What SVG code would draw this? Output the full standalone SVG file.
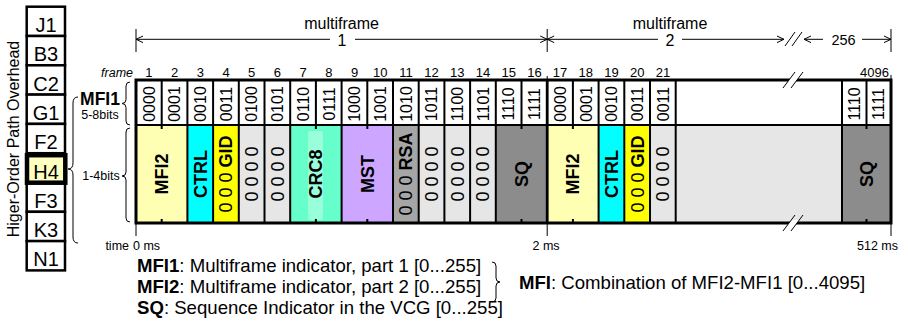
<svg xmlns="http://www.w3.org/2000/svg" width="908" height="328" viewBox="0 0 908 328">
  <style>
    text { font-family: "Liberation Sans", Arial, sans-serif; fill: #000; }
    .oh { fill: #fff; stroke: #000; stroke-width: 2.5; }
    .ohl { font-size: 20px; text-anchor: middle; }
    .bin { font-size: 16px; text-anchor: middle; }
    .fld { font-size: 18px; text-anchor: middle; }
    .b { font-weight: bold; }
    .num { font-size: 13px; text-anchor: middle; }
    .dim { font-size: 16px; text-anchor: middle; }
    .small { font-size: 12.5px; }
    .leg { font-size: 18.6px; }
    .sep { stroke: #000; stroke-width: 2; }
    .thin { stroke: #000; stroke-width: 1; fill: none; }
    .brace { stroke: #000; stroke-width: 1; fill: none; }
    .mfi2 { fill: #ffffb3; }
    .ctrl { fill: #00ffff; }
    .gid { fill: #ffff00; }
    .zero { fill: #e6e6e6; }
    .crc { fill: #66ffcc; }
    .mst { fill: #cca6ff; }
    .rsa { fill: #a6a6a6; }
    .sq { fill: #8c8c8c; }
  </style>

  <!-- Higher-order path overhead column -->
  <g id="overhead">
    <text transform="translate(19,139) rotate(-90)" style="font-size:16px;text-anchor:middle">Higer-Order Path Overhead</text>
    <g id="oh-j1"><rect class="oh" x="26.7" y="6.7" width="38.3" height="29.3"/><text class="ohl" x="46" y="32">J1</text></g>
    <g id="oh-b3"><rect class="oh" x="26.7" y="36" width="38.3" height="29.3"/><text class="ohl" x="46" y="61.3">B3</text></g>
    <g id="oh-c2"><rect class="oh" x="26.7" y="65.3" width="38.3" height="29.3"/><text class="ohl" x="46" y="90.6">C2</text></g>
    <g id="oh-g1"><rect class="oh" x="26.7" y="94.6" width="38.3" height="29.3"/><text class="ohl" x="46" y="119.9">G1</text></g>
    <g id="oh-f2"><rect class="oh" x="26.7" y="123.9" width="38.3" height="29.3"/><text class="ohl" x="46" y="149.2">F2</text></g>
    <g id="oh-f3"><rect class="oh" x="26.7" y="182.5" width="38.3" height="29.3"/><text class="ohl" x="46" y="207.8">F3</text></g>
    <g id="oh-k3"><rect class="oh" x="26.7" y="211.8" width="38.3" height="29.3"/><text class="ohl" x="46" y="237.1">K3</text></g>
    <g id="oh-n1"><rect class="oh" x="26.7" y="241.1" width="38.3" height="29.3"/><text class="ohl" x="46" y="266.4">N1</text></g>
    <g id="oh-h4"><rect x="27" y="155.2" width="38.3" height="27.5" fill="#ffffc0" stroke="#000" stroke-width="4.5"/><text class="ohl" x="46" y="178.5">H4</text></g>
  </g>

  <!-- side labels -->
  <g id="label-mfi1">
    <text x="100" y="105" style="font-size:17.5px;font-weight:bold;text-anchor:middle">MFI1</text>
    <text class="small" x="100" y="119" style="text-anchor:middle">5-8bits</text>
  </g>
  <g id="label-14bits">
    <text class="small" x="101" y="180" style="text-anchor:middle">1-4bits</text>
  </g>
  <text id="label-frame" x="133" y="76.5" style="font-size:12.5px;font-style:italic;text-anchor:end">frame</text>

  <!-- multiframe dimension labels -->
  <g id="mf-labels">
    <text class="dim" x="341.6" y="29">multiframe</text>
    <text class="dim" x="342" y="45.5">1</text>
    <text class="dim" x="670" y="29">multiframe</text>
    <text class="dim" x="670" y="45.5">2</text>
    <text class="dim" x="843.5" y="45" style="font-size:14.5px">256</text>
  </g>

  <!-- frame numbers -->
  <g id="frame-numbers">
    <text class="num" x="148.9" y="76.5">1</text>
    <text class="num" x="174.6" y="76.5">2</text>
    <text class="num" x="200.3" y="76.5">3</text>
    <text class="num" x="226" y="76.5">4</text>
    <text class="num" x="251.7" y="76.5">5</text>
    <text class="num" x="277.4" y="76.5">6</text>
    <text class="num" x="303.1" y="76.5">7</text>
    <text class="num" x="328.8" y="76.5">8</text>
    <text class="num" x="354.5" y="76.5">9</text>
    <text class="num" x="380.2" y="76.5">10</text>
    <text class="num" x="405.9" y="76.5">11</text>
    <text class="num" x="431.6" y="76.5">12</text>
    <text class="num" x="457.3" y="76.5">13</text>
    <text class="num" x="483" y="76.5">14</text>
    <text class="num" x="508.7" y="76.5">15</text>
    <text class="num" x="534.4" y="76.5">16</text>
    <text class="num" x="560.1" y="76.5">17</text>
    <text class="num" x="585.8" y="76.5">18</text>
    <text class="num" x="611.5" y="76.5">19</text>
    <text class="num" x="637.2" y="76.5">20</text>
    <text class="num" x="662.9" y="76.5">21</text>
    <text class="num" x="889" y="76.5" style="text-anchor:end">4096</text>
  </g>

  <!-- lower-row field fills (bits 1-4) -->
  <g id="fields">
    <rect class="mfi2" x="136" y="125" width="51.4" height="98"/>
    <rect class="ctrl" x="187.4" y="125" width="25.7" height="98"/>
    <rect class="gid" x="213.1" y="125" width="25.7" height="98"/>
    <rect class="zero" x="238.8" y="125" width="51.4" height="98"/>
    <rect class="crc" x="290.2" y="125" width="51.4" height="98"/>
    <rect x="308" y="131" width="15" height="89" rx="2" fill="#99ffdb"/>
    <rect class="mst" x="341.6" y="125" width="51.4" height="98"/>
    <rect class="rsa" x="393" y="125" width="25.7" height="98"/>
    <rect class="zero" x="418.7" y="125" width="77.1" height="98"/>
    <rect class="sq" x="495.8" y="125" width="51.4" height="98"/>
    <rect class="mfi2" x="547.2" y="125" width="51.4" height="98"/>
    <rect class="ctrl" x="598.6" y="125" width="25.7" height="98"/>
    <rect class="gid" x="624.3" y="125" width="25.7" height="98"/>
    <rect class="zero" x="650" y="125" width="192" height="98"/>
    <rect class="sq" x="842" y="125" width="49" height="98"/>
  </g>

  <!-- frame grid -->
  <g id="grid">
    <line class="sep" x1="136" y1="125" x2="891" y2="125"/>
    <!-- upper row separators -->
    <path class="sep" d="M161.7,80V125M187.4,80V125M213.1,80V125M238.8,80V125M264.5,80V125M290.2,80V125M315.9,80V125M341.6,80V125M367.3,80V125M393,80V125M418.7,80V125M444.4,80V125M470.1,80V125M495.8,80V125M521.5,80V125M572.9,80V125M598.6,80V125M624.3,80V125M650,80V125M675.7,80V125M842,80V125M866.5,80V125"/>
    <!-- lower row separators -->
    <path class="sep" d="M187.4,125V223M213.1,125V223M238.8,125V223M264.5,125V223M290.2,125V223M341.6,125V223M393,125V223M418.7,125V223M444.4,125V223M470.1,125V223M495.8,125V223M598.6,125V223M624.3,125V223M650,125V223M675.7,125V223M842,125V223"/>
    <line x1="547.2" y1="80" x2="547.2" y2="223" stroke="#000" stroke-width="2.8"/>
    <!-- ticks on merged fields -->
    <path class="sep" d="M161.7,125V129M161.7,219V223M315.9,125V129M315.9,219V223M367.3,125V129M367.3,219V223M521.5,125V129M521.5,219V223M572.9,125V129M572.9,219V223M866.5,125V129M866.5,219V223"/>
    <rect x="136" y="80" width="755" height="143" fill="none" stroke="#000" stroke-width="3"/>
  </g>

  <!-- upper-row MFI1 values (bits 5-8) -->
  <g id="mfi1-values">
    <text class="bin" transform="translate(154.6,104) rotate(-90)">0000</text>
    <text class="bin" transform="translate(180.3,104) rotate(-90)">0001</text>
    <text class="bin" transform="translate(206,104) rotate(-90)">0010</text>
    <text class="bin" transform="translate(231.7,104) rotate(-90)">0011</text>
    <text class="bin" transform="translate(257.4,104) rotate(-90)">0100</text>
    <text class="bin" transform="translate(283.1,104) rotate(-90)">0101</text>
    <text class="bin" transform="translate(308.8,104) rotate(-90)">0110</text>
    <text class="bin" transform="translate(334.5,104) rotate(-90)">0111</text>
    <text class="bin" transform="translate(360.2,104) rotate(-90)">1000</text>
    <text class="bin" transform="translate(385.9,104) rotate(-90)">1001</text>
    <text class="bin" transform="translate(411.6,104) rotate(-90)">1010</text>
    <text class="bin" transform="translate(437.3,104) rotate(-90)">1011</text>
    <text class="bin" transform="translate(463,104) rotate(-90)">1100</text>
    <text class="bin" transform="translate(488.7,104) rotate(-90)">1101</text>
    <text class="bin" transform="translate(514.4,104) rotate(-90)">1110</text>
    <text class="bin" transform="translate(540.1,104) rotate(-90)">1111</text>
    <text class="bin" transform="translate(565.8,104) rotate(-90)">0000</text>
    <text class="bin" transform="translate(591.5,104) rotate(-90)">0001</text>
    <text class="bin" transform="translate(617.2,104) rotate(-90)">0010</text>
    <text class="bin" transform="translate(642.9,104) rotate(-90)">0011</text>
    <text class="bin" transform="translate(668.6,104) rotate(-90)">0011</text>
    <text class="bin" transform="translate(859.9,104) rotate(-90)">1110</text>
    <text class="bin" transform="translate(884.4,104) rotate(-90)">1111</text>
  </g>

  <!-- lower-row field labels -->
  <g id="field-labels">
    <text class="fld b" transform="translate(168.1,174) rotate(-90)">MFI2</text>
    <text class="fld b" transform="translate(206.7,174) rotate(-90)">CTRL</text>
    <text class="fld" transform="translate(232.4,174) rotate(-90)">0 0 0 <tspan class="b">GID</tspan></text>
    <text class="fld" transform="translate(258.1,174) rotate(-90)">0 0 0 0</text>
    <text class="fld" transform="translate(283.8,174) rotate(-90)">0 0 0 0</text>
    <text class="fld b" transform="translate(322.3,174) rotate(-90)">CRC8</text>
    <text class="fld b" transform="translate(373.7,174) rotate(-90)">MST</text>
    <text class="fld" transform="translate(412.3,174) rotate(-90)">0 0 0 <tspan class="b">RSA</tspan></text>
    <text class="fld" transform="translate(438,174) rotate(-90)">0 0 0 0</text>
    <text class="fld" transform="translate(463.7,174) rotate(-90)">0 0 0 0</text>
    <text class="fld" transform="translate(489.4,174) rotate(-90)">0 0 0 0</text>
    <text class="fld b" transform="translate(527.9,174) rotate(-90)">SQ</text>
    <text class="fld b" transform="translate(579.3,174) rotate(-90)">MFI2</text>
    <text class="fld b" transform="translate(617.9,174) rotate(-90)">CTRL</text>
    <text class="fld" transform="translate(643.6,174) rotate(-90)">0 0 0 <tspan class="b">GID</tspan></text>
    <text class="fld" transform="translate(669.3,174) rotate(-90)">0 0 0 0</text>
    <text class="fld b" transform="translate(872.9,174) rotate(-90)">SQ</text>
  </g>

  <!-- time axis labels -->
  <g id="time-labels">
    <text class="small" x="129" y="250" style="text-anchor:end">time</text>
    <text class="small" x="133" y="250">0 ms</text>
    <text class="small" x="546" y="250" style="text-anchor:middle">2 ms</text>
    <text class="small" x="898" y="250" style="text-anchor:end">512 ms</text>
  </g>

  <!-- legend -->
  <g id="legend">
    <text class="leg" x="137" y="272"><tspan class="b">MFI1</tspan>: Multiframe indicator, part 1 [0...255]</text>
    <text class="leg" x="137" y="293"><tspan class="b">MFI2</tspan>: Multiframe indicator, part 2 [0...255]</text>
    <text class="leg" x="137" y="314"><tspan class="b">SQ</tspan>: Sequence Indicator in the VCG [0...255]</text>
    <text class="leg" x="519" y="289"><tspan class="b">MFI</tspan>: Combination of MFI2-MFI1 [0...4095]</text>
  </g>

  <!-- connectors: braces, dimension lines, ticks and break marks -->
  <g id="connectors">
    <!-- braces -->
    <path class="brace" d="M78,97 Q73,97 73,103 L73,163 Q73,169 68,169 Q73,169 73,175 L73,237 Q73,243 78,243"/>
    <path class="brace" d="M130,82 Q126,82 126,86 L126,99.5 Q126,103.5 122,103.5 Q126,103.5 126,107.5 L126,121 Q126,125 130,125"/>
    <path class="brace" d="M130,128 Q126,128 126,132 L126,172 Q126,176 122,176 Q126,176 126,180 L126,218 Q126,222 130,222"/>
    <path class="brace" d="M492,262 Q496,262 496,266 L496,278 Q496,282 500,282 Q496,282 496,286 L496,298 Q496,302 492,302"/>

    <!-- multiframe dimension line -->
    <path class="thin" d="M136,29V52M547.2,29V52M891,29V52"/>
    <path class="thin" d="M136,39.3H330M355,39.3H547.2M547.2,39.3H658M682,39.3H784M804,39.3H823M862,39.3H891"/>
    <path class="thin" d="M143,36 L136,39.3 L143,42.6M540.2,36 L547.2,39.3 L540.2,42.6M554.2,36 L547.2,39.3 L554.2,42.6M777,36 L784,39.3 L777,42.6M811,36 L804,39.3 L811,42.6M884,36 L891,39.3 L884,42.6"/>
    <path class="thin" d="M785,46 L795,32M792,46 L802,32"/>

    <!-- frame and time ticks -->
    <path class="thin" d="M547.2,76V80M891,75V80"/>
    <path class="thin" d="M136,223V236M547.2,223V236M891,223V236"/>

    <!-- break marks on the frame -->
    <polygon points="787,83 791,77 799,77 795,83" fill="#fff"/>
    <path class="thin" d="M783,88 L795,72M791,88 L803,72"/>
    <polygon points="787,226 791,220 799,220 795,226" fill="#fff"/>
    <path class="thin" d="M783,231 L795,215M791,231 L803,215"/>
  </g>
</svg>
